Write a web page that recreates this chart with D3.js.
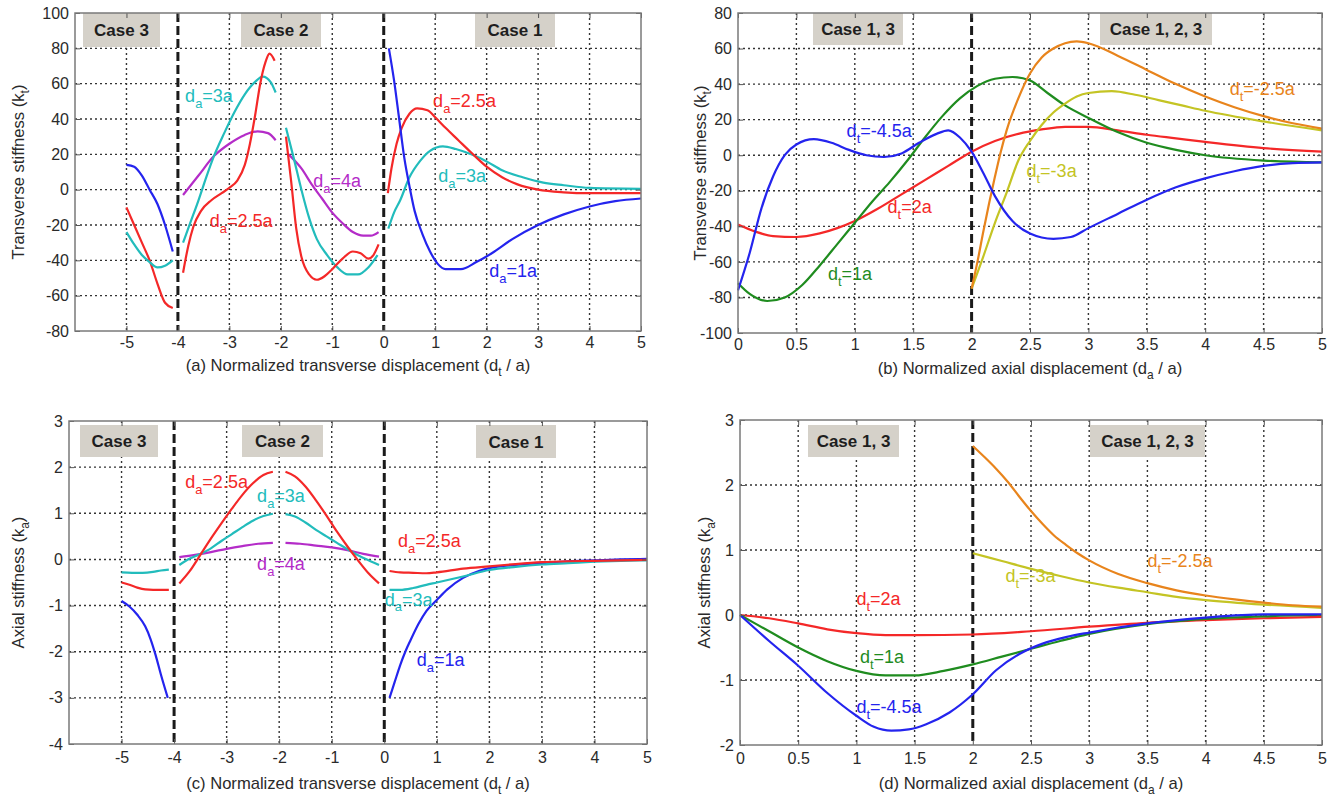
<!DOCTYPE html>
<html><head><meta charset="utf-8">
<script src="https://cdn.jsdelivr.net/npm/d3@7"></script>
<style>
body{margin:0;background:#fff}
svg{display:block}
text{font-family:"Liberation Sans",Arial,sans-serif}
</style>
</head><body>
<svg id="chart" width="1343" height="798"></svg>
<script>
// ---------------- tick labels ----------------
const xTicksTransverse = [-5,-4,-3,-2,-1,0,1,2,3,4,5];
const xTicksAxial = [0,0.5,1,1.5,2,2.5,3,3.5,4,4.5,5];
const yTicksA = [-80,-60,-40,-20,0,20,40,60,80,100];
const yTicksB = [-100,-80,-60,-40,-20,0,20,40,60,80];
const yTicksC = [-4,-3,-2,-1,0,1,2,3];
const yTicksD = [-2,-1,0,1,2,3];

// ---------------- panel (a) : transverse stiffness vs transverse displacement ----------------
const aCase3Blue = [[-5.0,14],[-4.85,13],[-4.7,8],[-4.55,0],[-4.4,-8],[-4.25,-20],[-4.1,-35]];
const aCase3Red = [[-5.0,-10],[-4.85,-20],[-4.7,-30],[-4.55,-40],[-4.4,-53],[-4.25,-64],[-4.1,-67]];
const aCase3Cyan = [[-5.0,-24],[-4.85,-31],[-4.7,-37],[-4.55,-41],[-4.4,-44],[-4.25,-43],[-4.1,-40]];
const aCase2PurpleL = [[-3.9,-3],[-3.6,8],[-3.3,19],[-3.0,26],[-2.7,31],[-2.45,33],[-2.25,32],[-2.1,28]];
const aCase2PurpleR = [[-1.85,20],[-1.6,12],[-1.4,3],[-1.2,-5],[-1.0,-13],[-0.8,-19],[-0.6,-24],[-0.4,-26],[-0.25,-26],[-0.1,-24]];
const aCase2CyanL = [[-3.9,-30],[-3.75,-18],[-3.6,-6],[-3.45,7],[-3.3,19],[-3.1,32],[-2.9,44],[-2.7,54],[-2.5,61],[-2.35,64],[-2.2,61],[-2.1,55]];
const aCase2CyanR = [[-1.9,35],[-1.75,18],[-1.6,0],[-1.45,-16],[-1.3,-28],[-1.1,-37],[-0.9,-44],[-0.7,-48],[-0.5,-48],[-0.3,-44],[-0.12,-37]];
const aCase2RedL = [[-3.9,-47],[-3.8,-32],[-3.7,-21],[-3.55,-12],[-3.35,-6],[-3.15,-2],[-3.0,1],[-2.85,5],[-2.7,14],[-2.6,26],[-2.5,42],[-2.4,60],[-2.3,72],[-2.22,77],[-2.12,73]];
const aCase2RedR = [[-1.9,30],[-1.8,5],[-1.7,-22],[-1.6,-38],[-1.45,-48],[-1.3,-51],[-1.15,-49],[-1.0,-45],[-0.8,-39],[-0.6,-35],[-0.45,-36],[-0.3,-39],[-0.2,-37],[-0.1,-31]];
const aCase1Blue = [[0.1,80],[0.2,62],[0.3,40],[0.4,18],[0.5,2],[0.6,-12],[0.75,-25],[0.9,-35],[1.05,-42],[1.2,-45],[1.5,-45],[1.8,-41],[2.1,-36],[2.5,-28],[3.0,-20],[3.5,-14],[4.0,-9.5],[4.5,-6.5],[5.0,-5]];
const aCase1Red = [[0.08,-2],[0.15,12],[0.25,26],[0.35,35],[0.5,43],[0.65,46],[0.85,45],[1.0,41],[1.2,35],[1.45,28],[1.7,21],[2.0,13],[2.3,7],[2.6,3],[3.0,0],[3.5,-1.5],[4.0,-2],[5.0,-2]];
const aCase1Cyan = [[0.09,-22],[0.2,-13],[0.32,-6],[0.5,7],[0.7,16],[0.9,22],[1.15,24.5],[1.4,23],[1.7,20],[2.0,16],[2.3,11],[2.7,7],[3.1,4],[3.5,2.5],[4.0,1],[5.0,0.5]];

// ---------------- panel (b) : transverse stiffness vs axial displacement ----------------
const bBlue = [[0,-76],[0.1,-55],[0.2,-30],[0.3,-12],[0.4,0],[0.5,6],[0.65,9],[0.8,7],[0.95,3],[1.1,0],[1.25,-1],[1.4,1],[1.55,7],[1.7,12],[1.8,14],[1.9,10],[2.0,2],[2.1,-10],[2.2,-23],[2.35,-37],[2.5,-44],[2.7,-47],[2.85,-46],[3.0,-41],[3.25,-33],[3.5,-25],[3.75,-18],[4.0,-13],[4.25,-9],[4.5,-6],[4.75,-4.5],[5.0,-4]];
const bGreen = [[0,-72],[0.1,-78],[0.25,-82],[0.4,-80],[0.55,-73],[0.7,-62],[0.85,-50],[1.0,-38],[1.15,-26],[1.3,-15],[1.45,-3],[1.6,10],[1.75,22],[1.9,32],[2.05,39],[2.2,43],[2.35,44],[2.5,42],[2.65,35],[2.8,28],[3.0,21],[3.25,13],[3.5,7],[3.75,3],[4.0,0],[4.5,-3],[5.0,-4]];
const bRed = [[0,-39],[0.15,-43],[0.3,-45.5],[0.5,-46],[0.7,-44],[0.85,-41],[1.0,-37],[1.2,-30],[1.4,-22],[1.6,-14],[1.8,-6],[2.0,2],[2.2,8],[2.4,12],[2.6,14.5],[2.8,16],[3.0,16],[3.25,14],[3.5,11.5],[3.75,9.5],[4.0,7.5],[4.5,4],[5.0,2]];
const bOrange = [[2.0,-75],[2.05,-60],[2.1,-43],[2.15,-27],[2.2,-12],[2.25,2],[2.3,14],[2.4,32],[2.5,46],[2.6,55],[2.7,60],[2.8,63],[2.9,64],[3.0,63],[3.25,56],[3.5,48],[3.75,40],[4.0,33],[4.25,27],[4.5,22],[4.75,18],[5.0,15]];
const bYellow = [[2.0,-75],[2.1,-57],[2.2,-38],[2.3,-21],[2.4,-3],[2.5,8],[2.6,17],[2.7,24],[2.8,29],[2.9,33],[3.0,35],[3.2,36],[3.4,34],[3.6,31],[3.8,28],[4.0,25],[4.5,19],[5.0,14]];

// ---------------- panel (c) : axial stiffness vs transverse displacement ----------------
const cCase3Cyan = [[-5.0,-0.28],[-4.8,-0.29],[-4.6,-0.29],[-4.4,-0.27],[-4.25,-0.24],[-4.1,-0.22]];
const cCase3Red = [[-5.0,-0.5],[-4.85,-0.55],[-4.7,-0.61],[-4.55,-0.65],[-4.4,-0.66],[-4.1,-0.66]];
const cCase3Blue = [[-5.0,-0.9],[-4.85,-1.02],[-4.7,-1.2],[-4.55,-1.45],[-4.45,-1.72],[-4.35,-2.08],[-4.25,-2.5],[-4.12,-3.0]];
const cCase2RedL = [[-3.9,-0.52],[-3.7,-0.25],[-3.5,0.1],[-3.3,0.45],[-3.1,0.78],[-2.9,1.1],[-2.7,1.4],[-2.5,1.65],[-2.3,1.83],[-2.12,1.9]];
const cCase2RedR = [[-1.88,1.9],[-1.7,1.8],[-1.5,1.58],[-1.3,1.28],[-1.1,0.95],[-0.9,0.6],[-0.7,0.28],[-0.5,-0.02],[-0.3,-0.3],[-0.1,-0.52]];
const cCase2CyanL = [[-3.9,-0.12],[-3.7,0.02],[-3.5,0.12],[-3.3,0.24],[-3.1,0.4],[-2.9,0.55],[-2.7,0.7],[-2.5,0.84],[-2.3,0.94],[-2.12,0.99]];
const cCase2CyanR = [[-1.88,0.98],[-1.7,0.93],[-1.5,0.8],[-1.3,0.64],[-1.1,0.5],[-0.9,0.36],[-0.7,0.22],[-0.5,0.09],[-0.3,-0.02],[-0.1,-0.12]];
const cCase2PurpleL = [[-3.9,0.05],[-3.6,0.1],[-3.3,0.16],[-3.0,0.23],[-2.7,0.29],[-2.4,0.34],[-2.12,0.36]];
const cCase2PurpleR = [[-1.88,0.36],[-1.6,0.34],[-1.3,0.3],[-1.0,0.26],[-0.7,0.2],[-0.4,0.12],[-0.1,0.06]];
const cCase1Red = [[0.1,-0.25],[0.3,-0.28],[0.55,-0.29],[0.8,-0.3],[1.0,-0.28],[1.5,-0.2],[2.0,-0.15],[2.5,-0.1],[3.0,-0.06],[3.5,-0.04],[4.0,-0.03],[5.0,-0.01]];
const cCase1Cyan = [[0.1,-0.66],[0.3,-0.66],[0.55,-0.62],[0.8,-0.55],[1.0,-0.5],[1.5,-0.37],[2.0,-0.23],[2.5,-0.16],[3.0,-0.11],[3.5,-0.08],[4.0,-0.05],[4.5,-0.03],[5.0,-0.02]];
const cCase1Blue = [[0.1,-3.0],[0.2,-2.65],[0.3,-2.3],[0.4,-2.0],[0.5,-1.75],[0.65,-1.4],[0.8,-1.12],[1.0,-0.88],[1.2,-0.65],[1.5,-0.4],[1.8,-0.25],[2.0,-0.19],[2.5,-0.12],[3.0,-0.08],[3.5,-0.04],[4.0,-0.02],[4.5,0],[5.0,0.01]];

// ---------------- panel (d) : axial stiffness vs axial displacement ----------------
const dOrange = [[2.0,2.6],[2.1,2.43],[2.2,2.25],[2.3,2.05],[2.4,1.82],[2.5,1.6],[2.6,1.4],[2.7,1.22],[2.8,1.08],[2.9,0.95],[3.0,0.84],[3.25,0.63],[3.5,0.49],[3.75,0.38],[4.0,0.3],[4.25,0.24],[4.5,0.19],[4.75,0.15],[5.0,0.13]];
const dYellow = [[2.0,0.95],[2.25,0.83],[2.5,0.71],[2.75,0.6],[3.0,0.5],[3.25,0.42],[3.5,0.35],[3.75,0.28],[4.0,0.23],[4.5,0.16],[5.0,0.11]];
const dRed = [[0,0],[0.25,-0.05],[0.5,-0.13],[0.75,-0.22],[1.0,-0.28],[1.25,-0.31],[1.5,-0.31],[2.0,-0.3],[2.5,-0.25],[3.0,-0.18],[3.5,-0.12],[4.0,-0.08],[4.5,-0.05],[5.0,-0.03]];
const dGreen = [[0,0],[0.25,-0.25],[0.5,-0.5],[0.75,-0.71],[1.0,-0.86],[1.25,-0.93],[1.5,-0.93],[1.75,-0.86],[2.0,-0.76],[2.25,-0.64],[2.5,-0.52],[2.75,-0.4],[3.0,-0.29],[3.5,-0.14],[4.0,-0.06],[4.5,-0.02],[5.0,0]];
const dBlue = [[0,0],[0.25,-0.4],[0.5,-0.78],[0.75,-1.2],[1.0,-1.55],[1.15,-1.72],[1.3,-1.78],[1.45,-1.76],[1.6,-1.68],[1.8,-1.5],[2.0,-1.22],[2.2,-0.85],[2.4,-0.6],[2.6,-0.44],[2.8,-0.34],[3.0,-0.27],[3.5,-0.13],[4.0,-0.04],[4.5,0.01],[5.0,0.01]];

// ---------------- colours ----------------
const COL = {blue:'#2424ee', red:'#f42828', cyan:'#22bcbc', purple:'#b42cc8', green:'#1f8c1f', orange:'#e8841c', yellow:'#c4c424'};

// ---------------- panels ----------------
const panels = [
  {l:75, r:641, t:13, b:331, xd:[-6,5], yd:[-80,100], xt:xTicksTransverse, yt:yTicksA, dividers:[-4,0], pad:6,
   cap:{pre:'(a) Normalized transverse displacement (d', sub:'t', post:' / a)', y:371},
   ylab:{pre:'Transverse stiffness (k', sub:'t', post:')', x:24},
   cases:[{t:'Case 3',x0:83,x1:160,y0:13,y1:47},{t:'Case 2',x0:241,x1:321,y0:13,y1:47},{t:'Case 1',x0:475,x1:555,y0:13,y1:47}],
   series:[[aCase3Blue,'blue'],[aCase3Red,'red'],[aCase3Cyan,'cyan'],[aCase2PurpleL,'purple'],[aCase2PurpleR,'purple'],[aCase2CyanL,'cyan'],[aCase2CyanR,'cyan'],[aCase2RedL,'red'],[aCase2RedR,'red'],[aCase1Cyan,'cyan'],[aCase1Red,'red'],[aCase1Blue,'blue']],
   labels:[[-3.86,49.6,'a','=3a','cyan'],[-1.37,1.5,'a','=4a','purple'],[-3.38,-21.2,'a','=2.5a','red'],[0.96,46.8,'a','=2.5a','red'],[1.06,4.3,'a','=3a','cyan'],[2.05,-49.5,'a','=1a','blue']]},
  {l:738, r:1322, t:13, b:333, xd:[0,5], yd:[-100,80], xt:xTicksAxial, yt:yTicksB, dividers:[2], pad:6,
   cap:{pre:'(b) Normalized axial displacement (d', sub:'a', post:' / a)', y:374},
   ylab:{pre:'Transverse stiffness (k', sub:'t', post:')', x:706},
   cases:[{t:'Case 1, 3',x0:813,x1:903,y0:13,y1:45},{t:'Case 1, 2, 3',x0:1100,x1:1212,y0:13,y1:45}],
   series:[[bRed,'red'],[bGreen,'green'],[bYellow,'yellow'],[bOrange,'orange'],[bBlue,'blue']],
   labels:[[0.93,10.3,'t','=-4.5a','blue'],[1.28,-32.5,'t','=2a','red'],[0.77,-70.2,'t','=1a','green'],[4.21,33.9,'t','=-2.5a','orange'],[2.47,-12.2,'t','=-3a','yellow']]},
  {l:69, r:647, t:421, b:744, xd:[-6,5], yd:[-4,3], xt:xTicksTransverse, yt:yTicksC, dividers:[-4,0], pad:8,
   cap:{pre:'(c) Normalized transverse displacement (d', sub:'t', post:' / a)', y:789},
   ylab:{pre:'Axial stiffness (k', sub:'a', post:')', x:24},
   cases:[{t:'Case 3',x0:80,x1:158,y0:425,y1:457},{t:'Case 2',x0:242,x1:323,y0:425,y1:457},{t:'Case 1',x0:476,x1:556,y0:425,y1:458}],
   series:[[cCase3Cyan,'cyan'],[cCase3Red,'red'],[cCase3Blue,'blue'],[cCase2PurpleL,'purple'],[cCase2PurpleR,'purple'],[cCase2CyanL,'cyan'],[cCase2CyanR,'cyan'],[cCase2RedL,'red'],[cCase2RedR,'red'],[cCase1Blue,'blue'],[cCase1Cyan,'cyan'],[cCase1Red,'red']],
   labels:[[-3.79,1.55,'a','=2.5a','red'],[-2.42,1.24,'a','=3a','cyan'],[-2.42,-0.23,'a','=4a','purple'],[0.26,0.27,'a','=2.5a','red'],[0.01,-1.0,'a','=3a','cyan'],[0.62,-2.31,'a','=1a','blue']]},
  {l:740, r:1322, t:420, b:745, xd:[0,5], yd:[-2,3], xt:xTicksAxial, yt:yTicksD, dividers:[2], pad:8,
   cap:{pre:'(d) Normalized axial displacement (d', sub:'a', post:' / a)', y:789},
   ylab:{pre:'Axial stiffness (k', sub:'a', post:')', x:710},
   cases:[{t:'Case 1, 3',x0:808,x1:899,y0:425,y1:457},{t:'Case 1, 2, 3',x0:1090,x1:1205,y0:425,y1:457}],
   series:[[dYellow,'yellow'],[dOrange,'orange'],[dRed,'red'],[dGreen,'green'],[dBlue,'blue']],
   labels:[[1.0,0.15,'t','=2a','red'],[1.03,-0.74,'t','=1a','green'],[1.0,-1.51,'t','=-4.5a','blue'],[3.5,0.74,'t','=-2.5a','orange'],[2.28,0.51,'t','=-3a','yellow']]}
];

const svg = d3.select('#chart');
const fmt = v => String(v);

function subText(sel, pre, sub, post, size) {
  sel.append('tspan').text(pre);
  sel.append('tspan').attr('dy', size*0.32).style('font-size', (size*0.72)+'px').text(sub);
  sel.append('tspan').attr('dy', -size*0.32).text(post);
}

panels.forEach(p => {
  const x = d3.scaleLinear().domain(p.xd).range([p.l, p.r]);
  const y = d3.scaleLinear().domain(p.yd).range([p.b, p.t]);
  const g = svg.append('g');

  // grid lines (dotted)
  g.append('g').selectAll('line').data(p.xt.filter(v => v > p.xd[0] && v < p.xd[1] && !p.dividers.includes(v))).join('line')
    .attr('x1', d => x(d)).attr('x2', d => x(d)).attr('y1', p.t).attr('y2', p.b)
    .attr('stroke', '#333').attr('stroke-width', 1.4).attr('stroke-dasharray', '2,3');
  g.append('g').selectAll('line').data(p.yt.filter(v => v > p.yd[0] && v < p.yd[1])).join('line')
    .attr('x1', p.l).attr('x2', p.r).attr('y1', d => y(d)).attr('y2', d => y(d))
    .attr('stroke', '#333').attr('stroke-width', 1.4).attr('stroke-dasharray', '2,3');

  // case boxes
  p.cases.forEach(c => {
    g.append('rect').attr('x', c.x0).attr('y', c.y0).attr('width', c.x1 - c.x0).attr('height', c.y1 - c.y0).attr('fill', '#d5d1c9');
    g.append('text').attr('x', (c.x0 + c.x1) / 2).attr('y', (c.y0 + c.y1) / 2 + 6).attr('text-anchor', 'middle')
      .style('font-size', '17px').style('font-weight', 'bold').attr('fill', '#1e1e1e').text(c.t);
  });

  // dividers
  g.append('g').selectAll('line').data(p.dividers).join('line')
    .attr('x1', d => x(d)).attr('x2', d => x(d)).attr('y1', p.t).attr('y2', p.b)
    .attr('stroke', '#1a1a1a').attr('stroke-width', 3).attr('stroke-dasharray', '9,4');

  // curves
  const line = d3.line().x(d => x(d[0])).y(d => y(d[1])).curve(d3.curveMonotoneX);
  g.append('g').selectAll('path').data(p.series).join('path')
    .attr('d', d => line(d[0])).attr('fill', 'none').attr('stroke', d => COL[d[1]]).attr('stroke-width', 2.2)
    .attr('stroke-linejoin', 'round');

  // axes
  const ax = g.append('g').attr('transform', `translate(0,${p.b})`)
    .call(d3.axisBottom(x).tickValues(p.xt).tickFormat(fmt).tickSize(-5).tickPadding(p.pad));
  const ay = g.append('g').attr('transform', `translate(${p.l},0)`)
    .call(d3.axisLeft(y).tickValues(p.yt).tickFormat(fmt).tickSize(-5).tickPadding(6));
  g.append('g').attr('transform', `translate(0,${p.t})`).call(d3.axisTop(x).tickValues(p.xt).tickFormat('').tickSize(-5));
  g.append('g').attr('transform', `translate(${p.r},0)`).call(d3.axisRight(y).tickValues(p.yt).tickFormat('').tickSize(-5));
  g.selectAll('.domain').remove();
  g.selectAll('.tick line').attr('stroke', '#555');
  [ax, ay].forEach(a => a.selectAll('text').style('font-size', '16px').attr('fill', '#2a2a2a').style('font-family', '"Liberation Sans",Arial,sans-serif'));

  // frame
  g.append('rect').attr('x', p.l).attr('y', p.t).attr('width', p.r - p.l).attr('height', p.b - p.t)
    .attr('fill', 'none').attr('stroke', '#7a7a7a').attr('stroke-width', 1.5);

  // curve labels
  p.labels.forEach(l => {
    const t = g.append('text').attr('x', x(l[0])).attr('y', y(l[1])).attr('fill', COL[l[4]]).style('font-size', '18px');
    subText(t, 'd', l[2], l[3], 18);
  });

  // caption
  const cap = g.append('text').attr('x', (p.l + p.r) / 2).attr('y', p.cap.y).attr('text-anchor', 'middle')
    .style('font-size', '16.6px').attr('fill', '#2a2a2a');
  subText(cap, p.cap.pre, p.cap.sub, p.cap.post, 16.6);

  // y label
  const yl = g.append('text').attr('transform', `translate(${p.ylab.x},${(p.t + p.b) / 2}) rotate(-90)`).attr('text-anchor', 'middle')
    .style('font-size', '16.6px').attr('fill', '#2a2a2a');
  subText(yl, p.ylab.pre, p.ylab.sub, p.ylab.post, 16.6);
});
</script>
</body></html>
